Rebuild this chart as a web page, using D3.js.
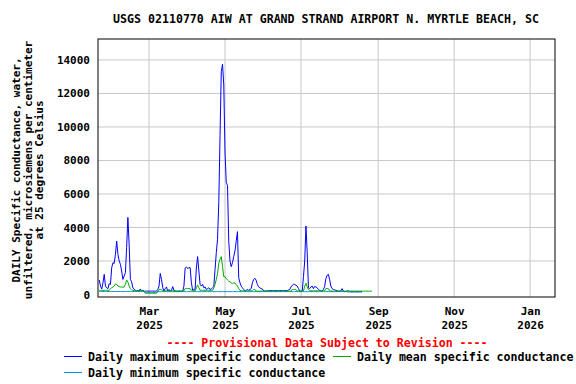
<!DOCTYPE html>
<html>
<head>
<meta charset="utf-8">
<script src="https://cdn.jsdelivr.net/npm/d3@7"></script>
<style>
  body { margin: 0; background: #fff; }
  text { font-family: "DejaVu Sans Mono", monospace; font-weight: bold; }
</style>
</head>
<body>
<div id="chart"></div>
<script>

// data: daily values starting 2025-01-20 (microsiemens/cm)
const startDate = '2025-01-20';

const dailyMax = [
  870, 500, 330, 700, 1200, 500, 400, 350, 650, 600,
  1600, 1900, 1850, 2400, 3190, 2400, 2000, 1800, 1400, 900,
  1100, 1300, 2800, 4600, 3000, 900, 760, 400, 330, 250,
  200, 250, 200, 330, 200, 250, 180, 200, 200, 200,
  200, 200, 200, 200, 200, 200, 200, 300, 500, 1260,
  900, 400, 200, 350, 450, 200, 300, 200, 250, 470,
  250, 200, 180, 180, 180, 180, 180, 180, 500, 1580,
  1650, 1550, 1600, 1600, 700, 250, 300, 330, 1580, 2260,
  1400, 600, 500, 600, 400, 450, 300, 350, 400, 300,
  330, 400, 470, 1500, 2500, 3300, 5500, 9500, 13300, 13750,
  12500, 8500, 6700, 6500, 3200, 2000, 1660, 1900, 2260, 2600,
  3200, 3750, 1000, 700, 500, 400, 300, 200, 250, 300,
  250, 300, 350, 700, 900, 970, 850, 600, 450, 400,
  350, 330, 220, 200, 200, 230, 230, 230, 230, 230,
  230, 230, 230, 230, 230, 230, 230, 230, 230, 230,
  230, 230, 270, 300, 450, 550, 610, 600, 550, 500,
  350, 200, 180, 200, 1060, 2000, 4090, 2500, 400, 350,
  450, 500, 350, 480, 450, 400, 300, 250, 200, 200,
  300, 470, 950, 1150, 1200, 900, 500, 350, 300, 280,
  250, 220, 200, 200, 220, 350, 200, 170, 180, 200,
  220, 180, 170, 170, 170, 170, 170, 170, 170, 170,
  170, 170
];

const dailyMean = [
  250, 250, 250, 250, 250, 250, 250, 250, 250, 350,
  400, 450, 500, 630, 600, 500, 480, 450, 450, 430,
  450, 600, 870, 750, 500, 350, 280, 250, 220, 220,
  220, 220, 220, 220, 220, 220, 220, 100, 100, 100,
  100, 100, 100, 100, 100, 100, 100, 200, 300, 310,
  280, 220, 220, 220, 220, 220, 220, 220, 220, 220,
  220, 220, 220, 220, 220, 220, 220, 220, 220, 350,
  350, 350, 350, 350, 250, 220, 220, 220, 400, 570,
  400, 250, 250, 250, 250, 250, 250, 250, 250, 250,
  250, 250, 400, 600, 900, 1260, 1860, 2100, 2260, 1660,
  1060, 1060, 950, 870, 800, 750, 700, 650, 700, 670,
  600, 500, 350, 250, 220, 220, 220, 220, 220, 220,
  220, 220, 220, 220, 300, 300, 200, 200, 200, 200,
  200, 200, 200, 200, 200, 200, 200, 200, 200, 200,
  200, 200, 200, 200, 200, 200, 200, 200, 200, 200,
  200, 200, 200, 200, 200, 300, 300, 300, 300, 200,
  200, 200, 200, 200, 200, 500, 670, 450, 280, 220,
  220, 220, 220, 220, 220, 220, 220, 220, 220, 220,
  220, 220, 350, 350, 350, 200, 200, 200, 200, 200,
  200, 200, 200, 200, 200, 200, 200, 200, 200, 200,
  200, 200, 200, 200, 200, 200, 200, 200, 200, 200,
  200, 200, 200, 200, 200, 200, 200, 200, 200, 200
];

const dailyMin = [
  180, 180, 180, 180, 180, 180, 180, 180, 180, 180,
  180, 180, 180, 180, 180, 180, 180, 180, 180, 180,
  180, 180, 180, 180, 180, 180, 180, 180, 180, 180,
  180, 180, 180, 180, 180, 180, 180, 80, 80, 80,
  80, 80, 80, 80, 80, 80, 80, 170, 170, 170,
  170, 170, 170, 170, 170, 170, 170, 170, 170, 170,
  170, 170, 170, 170, 170, 170, 170, 170, 170, 170,
  170, 170, 170, 170, 170, 170, 170, 170, 170, 170,
  170, 170, 170, 170, 170, 170, 170, 170, 170, 170,
  170, 170, 170, 170, 170, 170, 170, 170, 170, 170,
  170, 170, 170, 170, 170, 170, 170, 170, 170, 170,
  170, 170, 170, 170, 170, 170, 170, 170, 170, 170,
  170, 170, 170, 170, 170, 170, 170, 170, 170, 170,
  170, 170, 170, 170, 170, 170, 170, 170, 170, 170,
  170, 170, 170, 170, 170, 170, 170, 170, 170, 170,
  170, 170, 170, 170, 170, 170, 170, 170, 170, 170,
  170, 170, 170, 170, 170, 170, 170, 170, 170, 170,
  170, 170, 170, 170, 170, 170, 170, 170, 170, 170,
  170, 170, 170, 170, 170, 170, 170, 170, 170, 170,
  170, 170, 170, 170, 170, 170, 170, 170, 170, 170,
  150, 150, 150, 150, 150, 150, 150, 150, 150, 150,
  150, 150
];

const yTicks = [0, 2000, 4000, 6000, 8000, 10000, 12000, 14000];
const xTickDates = ['2025-03-01', '2025-05-01', '2025-07-01', '2025-09-01', '2025-11-01', '2026-01-01'];

const titleText = 'USGS 02110770 AIW AT GRAND STRAND AIRPORT N. MYRTLE BEACH, SC';
const yLabelLines = [
  'DAILY Specific conductance, water,',
  'unfiltered, microsiemens per centimeter',
  'at 25 degrees Celsius'
];
const seriesNames = [
  'Daily maximum specific conductance',
  'Daily mean specific conductance',
  'Daily minimum specific conductance'
];
const seriesColors = ['#0000ff', '#00a800', '#0090d8'];

// setup
const W = 576, H = 384;
const margin = {top: 39, right: 21, bottom: 87, left: 98};
const width = W - margin.left - margin.right,
      height = H - margin.top - margin.bottom;

const parse = d3.utcParse('%Y-%m-%d');
const t0 = parse(startDate);

const svg = d3.select('#chart')
    .append('svg')
    .attr('width', W)
    .attr('height', H);

const g = svg.append('g')
    .attr('transform', 'translate(' + margin.left + ',' + margin.top + ')');

const xScale = d3.scaleUtc()
    .domain([parse('2025-01-19'), parse('2026-01-21')])
    .range([0, width]);

const yScale = d3.scaleLinear()
    .domain([-150, 15250])
    .range([height, 0]);

// grid
g.append('g')
    .selectAll('line.hgrid')
    .data(yTicks.filter(d => d > 0))
    .join('line')
    .attr('x1', 0).attr('x2', width)
    .attr('y1', d => yScale(d)).attr('y2', d => yScale(d))
    .attr('stroke', '#c8c8c8').attr('stroke-width', 1);

g.append('g')
    .selectAll('line.vgrid')
    .data(xTickDates.map(parse))
    .join('line')
    .attr('x1', d => xScale(d)).attr('x2', d => xScale(d))
    .attr('y1', 0).attr('y2', height)
    .attr('stroke', '#c8c8c8').attr('stroke-width', 1);

// axes labels
const yAxis = d3.axisLeft(yScale).tickValues(yTicks).tickSize(0).tickPadding(8)
    .tickFormat(d3.format('d'));
g.append('g')
    .attr('class', 'y-axis')
    .call(yAxis)
    .call(s => s.select('.domain').remove())
    .selectAll('text')
    .attr('font-size', 11)
    .attr('fill', '#000');

const xAxis = d3.axisBottom(xScale).tickValues(xTickDates.map(parse)).tickSize(0).tickFormat('');
const xg = g.append('g')
    .attr('class', 'x-axis')
    .attr('transform', `translate(0, ${height})`)
    .call(xAxis);
xg.select('.domain').remove();
xg.selectAll('.tick').each(function(d) {
    const t = d3.select(this).append('text')
        .attr('text-anchor', 'middle')
        .attr('font-size', 11)
        .attr('fill', '#000');
    t.append('tspan').attr('x', 0).attr('y', 18).text(d3.utcFormat('%b')(d));
    t.append('tspan').attr('x', 0).attr('y', 32).text(d3.utcFormat('%Y')(d));
});

// lines
const series = [dailyMax, dailyMean, dailyMin];
const line = d3.line()
    .defined(d => d != null)
    .x((d, i) => xScale(d3.utcDay.offset(t0, i)))
    .y(d => yScale(d));

[0, 2, 1].forEach(k => {
    g.append('path')
        .datum(series[k])
        .attr('fill', 'none')
        .attr('stroke', seriesColors[k])
        .attr('stroke-width', 1)
        .attr('d', line);
});

// frame
g.append('rect')
    .attr('x', 0).attr('y', 0)
    .attr('width', width).attr('height', height)
    .attr('fill', 'none')
    .attr('stroke', '#000')
    .attr('stroke-width', 1);

// title
svg.append('text')
    .attr('x', 326).attr('y', 23)
    .attr('text-anchor', 'middle')
    .attr('font-size', 11.6)
    .text(titleText);

// y label
const yl = svg.append('text')
    .attr('transform', 'translate(0,170) rotate(-90)')
    .attr('text-anchor', 'middle')
    .attr('font-size', 11);
yLabelLines.forEach((s, i) => {
    yl.append('tspan').attr('x', 0).attr('y', 20 + i * 11.5).text(s);
});

// provisional note
svg.append('text')
    .attr('x', 327).attr('y', 347)
    .attr('text-anchor', 'middle')
    .attr('font-size', 11.6)
    .attr('fill', '#ff0000')
    .text('---- Provisional Data Subject to Revision ----');

// legend
const legendPos = [[64, 357], [333, 357], [64, 373]];
seriesNames.forEach((name, k) => {
    const [lx, ly] = legendPos[k];
    svg.append('line')
        .attr('x1', lx).attr('x2', lx + 18)
        .attr('y1', ly - 0.5).attr('y2', ly - 0.5)
        .attr('stroke', seriesColors[k]).attr('stroke-width', 1);
    svg.append('text')
        .attr('x', lx + 24).attr('y', ly + 4)
        .attr('font-size', 11.6)
        .text(name);
});

</script>
</body>
</html>
